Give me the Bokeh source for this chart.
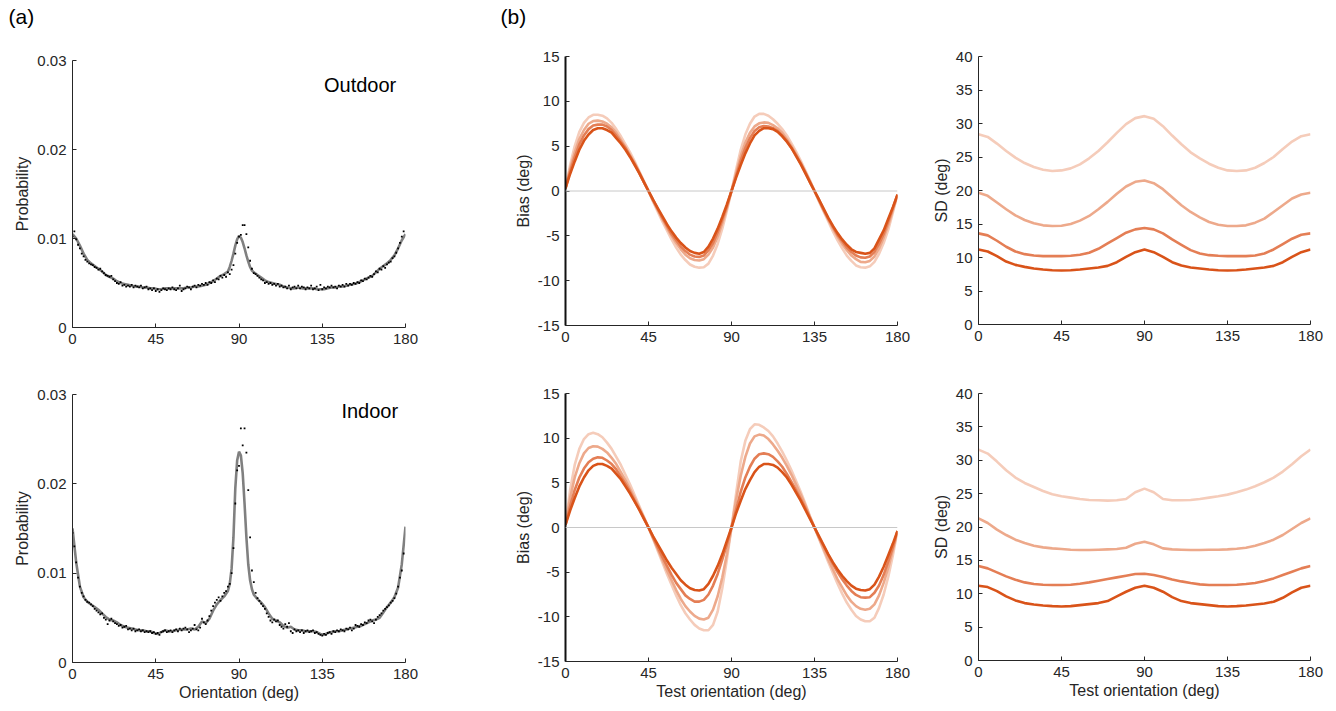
from bokeh.plotting import figure
from bokeh.models import Range1d, FixedTicker, Label, CustomJSTickFormatter, Span, Title
from bokeh.layouts import row, column
from bokeh.embed import file_html
from bokeh.resources import INLINE

FONT = "Liberation Sans"
AXC = "#262626"

# ---------------- data ----------------
orient_ticks = [0, 45, 90, 135, 180]
prob_ticks = [0, 0.01, 0.02, 0.03]
bias_ticks = [-15, -10, -5, 0, 5, 10, 15]
sd_ticks = [0, 5, 10, 15, 20, 25, 30, 35, 40]

dots_x = list(range(0, 180))
curve_x = list(range(0, 85, 2)) + list(range(85, 99)) + list(range(100, 181, 2))
bias_x = [i * 2.5 for i in range(73)]
sd_x = list(range(0, 181, 5))

outdoor_dots = [
    .0102, .0108, .0099, .0093, .0089, .0083, .0080, .0076, .0074, .0072,
    .0071, .0070, .0068, .0067, .0065, .0066, .0063, .0061, .0059, .0058,
    .0057, .0058, .0054, .0052, .0050, .0049, .0051, .0047, .0048, .0046,
    .0047, .0046, .0048, .0045, .0047, .0046, .0045, .0047, .0044, .0045,
    .0046, .0043, .0044, .0042, .0044, .0041, .0043, .0040, .0042, .0044,
    .0043, .0042, .0044, .0043, .0045, .0043, .0042, .0044, .0047, .0041,
    .0043, .0044, .0046, .0045, .0043, .0046, .0047, .0045, .0048, .0047,
    .0049, .0048, .0050, .0048, .0051, .0050, .0053, .0051, .0055, .0054,
    .0058, .0056, .0059, .0057, .0062, .0060, .0065, .0070, .0083, .0095,
    .0102, .0104, .0115, .0115, .0105, .0090, .0075, .0066, .0061, .0060,
    .0058, .0056, .0054, .0053, .0050, .0051, .0049, .0050, .0048, .0049,
    .0047, .0049, .0046, .0047, .0045, .0046, .0044, .0047, .0043, .0045,
    .0046, .0044, .0047, .0044, .0046, .0045, .0043, .0045, .0044, .0047,
    .0043, .0044, .0046, .0042, .0048, .0043, .0045, .0044, .0046, .0045,
    .0047, .0045, .0046, .0044, .0047, .0046, .0048, .0046, .0049, .0047,
    .0049, .0048, .0050, .0049, .0051, .0050, .0053, .0052, .0055, .0054,
    .0056, .0058, .0057, .0060, .0063, .0062, .0066, .0065, .0069, .0067,
    .0071, .0073, .0074, .0078, .0080, .0084, .0089, .0095, .0102, .0108,
]
outdoor_curve = [
    .0105, .0100, .0092, .0083, .0076, .0072, .0069, .0066, .0063, .0059,
    .0057, .0055, .0052, .0050, .0049, .0048, .0047, .0046, .0046, .0045,
    .0045, .0044, .0044, .0043, .0043, .0044, .0044, .0044, .0044, .0044,
    .0044, .0045, .0045, .0046, .0046, .0047, .0048, .0050, .0052, .0055,
    .0058, .0060, .0063,
    .0068, .0075, .0083, .0092, .0099, .0103, .0101, .0096, .0089, .0081,
    .0074, .0068, .0064, .0062,
    .0059, .0056, .0053, .0051, .0050, .0049, .0048, .0046, .0045, .0044,
    .0044, .0045, .0044, .0044, .0044, .0044, .0043, .0043, .0043, .0044,
    .0045, .0045, .0046, .0046, .0047, .0048, .0049, .0050, .0052, .0054,
    .0056, .0058, .0062, .0066, .0069, .0072, .0076, .0081, .0089, .0098,
    .0105,
]
indoor_dots = [
    .0145, .0130, .0112, .0095, .0085, .0078, .0074, .0070, .0068, .0067,
    .0065, .0063, .0060, .0058, .0056, .0054, .0055, .0050, .0048, .0043,
    .0047, .0049, .0046, .0044, .0043, .0041, .0042, .0039, .0040, .0041,
    .0037, .0038, .0036, .0038, .0035, .0036, .0037, .0035, .0036, .0034,
    .0035, .0034, .0035, .0033, .0034, .0032, .0033, .0031, .0034, .0035,
    .0036, .0034, .0035, .0036, .0034, .0036, .0037, .0035, .0038, .0036,
    .0038, .0039, .0037, .0034, .0036, .0038, .0042, .0037, .0036, .0039,
    .0049, .0045, .0043, .0047, .0052, .0058, .0063, .0067, .0070, .0073,
    .0069, .0074, .0078, .0080, .0085, .0088, .0100, .0128, .0178, .0215,
    .0220, .0262, .0243, .0262, .0235, .0193, .0140, .0103, .0090, .0078,
    .0072, .0069, .0066, .0063, .0060, .0055, .0051, .0047, .0045, .0048,
    .0046, .0047, .0042, .0040, .0038, .0043, .0040, .0044, .0035, .0033,
    .0037, .0035, .0036, .0034, .0036, .0033, .0035, .0036, .0034, .0035,
    .0036, .0033, .0034, .0032, .0031, .0030, .0032, .0031, .0033, .0034,
    .0032, .0035, .0034, .0036, .0035, .0037, .0036, .0035, .0038, .0037,
    .0039, .0036, .0038, .0042, .0041, .0040, .0043, .0042, .0045, .0044,
    .0047, .0048, .0046, .0044, .0048, .0051, .0053, .0055, .0058, .0060,
    .0062, .0064, .0067, .0069, .0072, .0077, .0085, .0095, .0103, .0122,
]
indoor_curve = [
    .0150, .0112, .0085, .0073, .0068, .0065, .0062, .0059, .0055, .0051,
    .0048, .0047, .0045, .0042, .0040, .0039, .0038, .0037, .0036, .0036,
    .0035, .0035, .0033, .0032, .0034, .0036, .0035, .0035, .0036, .0037,
    .0037, .0037, .0038, .0037, .0040, .0046, .0044, .0049, .0058, .0065,
    .0070, .0074, .0080,
    .0088, .0105, .0140, .0195, .0226, .0236, .0232, .0212, .0178, .0140,
    .0110, .0092, .0082, .0076,
    .0071, .0067, .0062, .0055, .0049, .0047, .0045, .0041, .0039, .0040,
    .0037, .0036, .0036, .0035, .0035, .0035, .0034, .0032, .0031, .0033,
    .0034, .0035, .0035, .0036, .0037, .0038, .0039, .0040, .0041, .0043,
    .0045, .0047, .0048, .0050, .0056, .0062, .0067, .0073, .0084, .0110,
    .0152,
]

# bias (deg), darkest (1) to lightest (4), every 2.5 deg
bias_out_1 = [0.3, 1.9, 3.3, 4.6, 5.6, 6.3, 6.8, 7.0, 7.0, 6.8,
              6.5, 5.9, 5.3, 4.6, 3.8, 2.9, 2.0, 1.0, 0.0, -1.0,
              -1.9, -2.8, -3.7, -4.5, -5.2, -5.8, -6.3, -6.7, -6.9, -7.0,
              -6.8, -6.2, -5.3, -4.2, -2.9, -1.5, 0.0, 1.5, 2.9, 4.2,
              5.3, 6.2, 6.7, 7.0, 7.0, 6.9, 6.6, 6.1, 5.5, 4.8,
              3.9, 3.0, 2.0, 1.0, 0.0, -1.0, -2.0, -3.0, -3.9, -4.7,
              -5.4, -6.0, -6.5, -6.8, -6.9, -7.0, -6.9, -6.4, -5.4, -4.4,
              -3.1, -1.8, -0.4]
bias_out_2 = [0.3, 2.2, 3.8, 5.2, 6.2, 6.9, 7.3, 7.4, 7.4, 7.2,
              6.8, 6.2, 5.5, 4.8, 3.9, 3.0, 2.0, 1.0, 0.0, -1.0,
              -2.0, -3.0, -3.9, -4.8, -5.5, -6.2, -6.7, -7.1, -7.3, -7.35,
              -7.2, -6.6, -5.8, -4.6, -3.2, -1.7, 0.0, 1.7, 3.4, 4.8,
              5.9, 6.7, 7.1, 7.25, 7.2, 7.0, 6.7, 6.2, 5.6, 4.8,
              4.0, 3.1, 2.1, 1.0, 0.0, -1.0, -2.1, -3.1, -4.0, -4.9,
              -5.6, -6.3, -6.8, -7.2, -7.4, -7.45, -7.3, -6.8, -5.9, -4.8,
              -3.4, -1.9, -0.4]
bias_out_3 = [0.3, 2.5, 4.3, 5.8, 6.8, 7.5, 7.8, 7.85, 7.75, 7.5,
              7.1, 6.5, 5.7, 4.9, 4.0, 3.1, 2.1, 1.0, 0.0, -1.1,
              -2.1, -3.1, -4.1, -5.0, -5.8, -6.5, -7.1, -7.5, -7.7, -7.75,
              -7.6, -7.1, -6.3, -5.1, -3.6, -1.9, 0.0, 2.0, 3.9, 5.4,
              6.5, 7.2, 7.55, 7.65, 7.6, 7.35, 7.0, 6.5, 5.8, 5.0,
              4.1, 3.1, 2.1, 1.1, 0.0, -1.1, -2.2, -3.2, -4.2, -5.1,
              -5.9, -6.6, -7.2, -7.6, -7.9, -7.95, -7.8, -7.3, -6.4, -5.2,
              -3.8, -2.1, -0.4]
bias_out_4 = [0.3, 2.9, 5.0, 6.6, 7.6, 8.2, 8.5, 8.5, 8.4, 8.1,
              7.6, 6.9, 6.1, 5.2, 4.3, 3.3, 2.2, 1.1, 0.0, -1.2,
              -2.3, -3.4, -4.4, -5.4, -6.3, -7.1, -7.7, -8.2, -8.45, -8.55,
              -8.5, -8.1, -7.2, -5.9, -4.2, -2.2, 0.0, 2.4, 4.6, 6.3,
              7.5, 8.3, 8.6, 8.6, 8.4, 8.0, 7.5, 6.9, 6.2, 5.3,
              4.4, 3.4, 2.3, 1.2, 0.0, -1.2, -2.3, -3.4, -4.5, -5.5,
              -6.4, -7.2, -7.8, -8.3, -8.5, -8.55, -8.4, -7.9, -7.0, -5.8,
              -4.3, -2.4, -0.4]

bias_in_1 = [0.3, 1.9, 3.3, 4.6, 5.6, 6.4, 6.9, 7.1, 7.1, 6.9,
             6.6, 6.0, 5.4, 4.6, 3.8, 2.9, 2.0, 1.0, 0.0, -1.0,
             -1.9, -2.8, -3.7, -4.5, -5.2, -5.9, -6.4, -6.8, -7.0, -7.05,
             -6.9, -6.3, -5.4, -4.3, -3.0, -1.5, 0.0, 1.6, 3.0, 4.3,
             5.3, 6.2, 6.8, 7.1, 7.1, 7.0, 6.7, 6.2, 5.6, 4.8,
             3.9, 3.0, 2.0, 1.0, 0.0, -1.0, -2.0, -3.0, -3.9, -4.7,
             -5.4, -6.0, -6.5, -6.85, -7.0, -7.05, -6.9, -6.4, -5.5, -4.4,
             -3.1, -1.8, -0.4]
bias_in_2 = [0.3, 2.4, 4.2, 5.6, 6.6, 7.3, 7.7, 7.85, 7.8, 7.5,
             7.1, 6.5, 5.7, 4.9, 4.0, 3.0, 2.0, 1.0, 0.0, -1.1,
             -2.2, -3.3, -4.3, -5.3, -6.2, -6.9, -7.6, -8.0, -8.3, -8.3,
             -8.1, -7.5, -6.5, -5.2, -3.6, -1.9, 0.0, 2.0, 4.0, 5.6,
             6.8, 7.7, 8.2, 8.3, 8.2, 7.9, 7.4, 6.8, 6.0, 5.1,
             4.2, 3.2, 2.2, 1.1, 0.0, -1.1, -2.1, -3.1, -4.1, -5.0,
             -5.8, -6.5, -7.1, -7.55, -7.8, -7.85, -7.8, -7.3, -6.5, -5.3,
             -3.8, -2.2, -0.4]
bias_in_3 = [0.3, 3.3, 5.6, 7.2, 8.3, 8.9, 9.1, 9.05, 8.8, 8.4,
             7.8, 7.1, 6.2, 5.3, 4.3, 3.3, 2.2, 1.1, 0.0, -1.2,
             -2.4, -3.6, -4.8, -5.9, -7.0, -8.0, -8.8, -9.4, -9.9, -10.2,
             -10.3, -10.1, -9.2, -7.7, -5.6, -3.0, 0.0, 3.1, 5.8, 7.9,
             9.4, 10.2, 10.4, 10.3, 9.9, 9.3, 8.6, 7.8, 6.9, 5.9,
             4.8, 3.7, 2.5, 1.2, 0.0, -1.2, -2.4, -3.6, -4.7, -5.8,
             -6.7, -7.6, -8.3, -8.8, -9.1, -9.2, -9.1, -8.6, -7.6, -6.2,
             -4.5, -2.5, -0.4]
bias_in_4 = [0.3, 4.2, 7.0, 8.8, 9.9, 10.45, 10.6, 10.45, 10.1, 9.5,
             8.8, 7.9, 7.0, 5.9, 4.8, 3.6, 2.4, 1.2, 0.0, -1.3,
             -2.6, -3.9, -5.2, -6.4, -7.6, -8.7, -9.6, -10.3, -10.9, -11.3,
             -11.5, -11.5, -10.9, -9.4, -6.8, -3.6, 0.0, 3.8, 7.4, 9.7,
             11.0, 11.55, 11.5, 11.2, 10.8, 10.2, 9.4, 8.5, 7.5, 6.4,
             5.2, 4.0, 2.7, 1.3, 0.0, -1.3, -2.6, -3.9, -5.1, -6.3,
             -7.4, -8.4, -9.2, -9.9, -10.3, -10.5, -10.5, -10.1, -9.0, -7.5,
             -5.5, -3.1, -0.4]

# SD (deg), darkest (1) to lightest (4), every 5 deg
sd_out_1 = [11.2, 10.9, 10.2, 9.4, 8.9, 8.6, 8.35, 8.2, 8.1, 8.05, 8.1, 8.2, 8.35, 8.5, 8.75, 9.3, 10.1, 10.8, 11.2,
            10.8, 10.1, 9.3, 8.8, 8.5, 8.35, 8.2, 8.1, 8.05, 8.1, 8.2, 8.35, 8.5, 8.75, 9.3, 10.1, 10.8, 11.2]
sd_out_2 = [13.6, 13.3, 12.5, 11.6, 10.9, 10.5, 10.3, 10.2, 10.2, 10.2, 10.25, 10.4, 10.7, 11.3, 12.1, 12.9, 13.7, 14.2, 14.4,
            14.2, 13.6, 12.7, 11.9, 11.1, 10.6, 10.35, 10.25, 10.2, 10.2, 10.2, 10.3, 10.6, 11.2, 12.0, 12.8, 13.4, 13.6]
sd_out_3 = [19.65, 19.2, 18.2, 17.2, 16.3, 15.6, 15.1, 14.8, 14.7, 14.75, 15.0, 15.5, 16.2, 17.2, 18.3, 19.5, 20.6, 21.3, 21.5,
            21.1, 20.2, 19.0, 17.8, 16.8, 16.0, 15.3, 14.9, 14.7, 14.7, 14.8, 15.2, 15.8, 16.8, 17.8, 18.8, 19.4, 19.65]
sd_out_4 = [28.4, 28.0, 27.0, 25.9, 24.9, 24.1, 23.5, 23.1, 22.9, 23.0, 23.3, 23.9, 24.8, 25.9, 27.2, 28.6, 29.9, 30.8, 31.1,
            30.7, 29.6, 28.2, 26.9, 25.7, 24.8, 24.0, 23.4, 23.0, 22.9, 23.0, 23.4, 24.1, 25.0, 26.2, 27.3, 28.1, 28.4]

sd_in_1 = [11.2, 11.0, 10.4, 9.6, 9.0, 8.6, 8.4, 8.25, 8.15, 8.1, 8.15, 8.3, 8.45, 8.6, 8.9, 9.6, 10.3, 10.9, 11.2,
           10.9, 10.3, 9.5, 8.9, 8.6, 8.45, 8.3, 8.15, 8.1, 8.15, 8.25, 8.4, 8.55, 8.8, 9.4, 10.2, 10.9, 11.2]
sd_in_2 = [14.15, 13.8, 13.2, 12.6, 12.1, 11.7, 11.45, 11.35, 11.3, 11.3, 11.35, 11.5, 11.7, 11.95, 12.2, 12.45, 12.7, 12.95, 13.0,
           12.8, 12.5, 12.15, 11.85, 11.6, 11.4, 11.3, 11.3, 11.3, 11.35, 11.45, 11.6, 11.9, 12.3, 12.8, 13.3, 13.8, 14.15]
sd_in_3 = [21.3, 20.6, 19.6, 18.8, 18.1, 17.6, 17.2, 16.95, 16.8, 16.7, 16.6, 16.55, 16.55, 16.6, 16.65, 16.7, 16.9, 17.5, 17.8,
           17.4, 16.8, 16.65, 16.6, 16.55, 16.55, 16.6, 16.6, 16.65, 16.75, 16.9, 17.2, 17.6, 18.1, 18.8, 19.7, 20.6, 21.3]
sd_in_4 = [31.6, 31.0, 29.8, 28.5, 27.4, 26.6, 26.0, 25.4, 24.9, 24.6, 24.4, 24.2, 24.05, 24.0, 23.95, 24.0, 24.2, 25.2, 25.75,
           25.2, 24.2, 24.0, 24.0, 24.05, 24.2, 24.4, 24.6, 24.85, 25.2, 25.6, 26.1, 26.7, 27.4, 28.3, 29.4, 30.6, 31.6]

for s in (bias_out_1, bias_out_2, bias_out_3, bias_out_4, bias_in_1, bias_in_2, bias_in_3, bias_in_4):
    assert len(s) == len(bias_x), len(s)

# colours: darkest -> lightest
oranges = ["#D95319", "#E47E55", "#EDA98B", "#F5CCBA"]
gray_curve = "#808080"


def make_fig(w, h, bl, br, bt, bb, yr, yticks, yfmt, ylabel, xlabel=None, thick_left=False):
    p = figure(width=w, height=h, x_range=Range1d(0, 180), y_range=Range1d(*yr),
               output_backend="svg", toolbar_location=None,
               min_border_left=bl, min_border_right=br, min_border_top=bt, min_border_bottom=bb)
    p.outline_line_color = None
    p.xgrid.visible = False
    p.ygrid.visible = False
    p.background_fill_color = "white"
    p.border_fill_color = "white"
    for ax in (p.xaxis[0], p.yaxis[0]):
        ax.axis_line_color = AXC
        ax.axis_line_width = 1
        ax.major_tick_line_color = AXC
        ax.major_tick_in = 4
        ax.major_tick_out = 0
        ax.minor_tick_line_color = None
        ax.major_label_text_font = FONT
        ax.major_label_text_font_size = "15px"
        ax.major_label_text_color = AXC
        ax.major_label_standoff = 6
        ax.axis_label_text_font = FONT
        ax.axis_label_text_font_size = "16px"
        ax.axis_label_text_font_style = "normal"
        ax.axis_label_text_color = AXC
    p.xaxis[0].ticker = FixedTicker(ticks=orient_ticks)
    p.xaxis[0].formatter = CustomJSTickFormatter(code="return tick.toFixed(0);")
    p.yaxis[0].ticker = FixedTicker(ticks=yticks)
    p.yaxis[0].formatter = CustomJSTickFormatter(code=yfmt)
    p.yaxis[0].axis_label = ylabel
    p.yaxis[0].axis_label_standoff = 3
    if xlabel:
        p.xaxis[0].axis_label = xlabel
        p.xaxis[0].axis_label_standoff = 2
    if thick_left:
        p.yaxis[0].axis_line_width = 2
        p.yaxis[0].axis_line_color = "#111111"
    return p


prob_fmt = "return tick == 0 ? '0' : tick.toFixed(2);"
int_fmt = "return tick.toFixed(0);"


def prob_panel(p, dots, curve, name, lx, ly):
    p.line(curve_x, curve, line_color=gray_curve, line_width=2.6)
    p.scatter(dots_x, dots, marker="square", size=1.8, fill_color="black", line_color=None)
    p.add_layout(Label(x=lx, y=ly, text=name, text_align="right", text_baseline="middle",
                       text_font=FONT, text_font_size="20px", text_color="black"))


def multi_panel(p, xs, series):
    for vals, col in reversed(list(zip(series, oranges))):
        p.line(xs, vals, line_color=col, line_width=2.6)


def panel_letter(p, text, offset, gap):
    # an empty spacer title next to the frame pushes the letter further up
    p.add_layout(Title(text=" ", text_font=FONT, text_font_size="21px", standoff=gap), "above")
    p.title.text = text
    p.title.align = "left"
    p.title.vertical_align = "top"
    p.title.offset = offset
    p.title.standoff = 0
    p.title.text_font = FONT
    p.title.text_font_size = "21px"
    p.title.text_font_style = "normal"
    p.title.text_color = "black"


# ---- column A ----
a_top = make_fig(480, 360, 72, 75, 60, 33, (0, 0.03), prob_ticks, prob_fmt, "Probability")
prob_panel(a_top, outdoor_dots, outdoor_curve, "Outdoor", 175, 0.0272)
panel_letter(a_top, "(a)", -64, 6)

a_bot = make_fig(480, 351, 72, 75, 34, 49, (0, 0.03), prob_ticks, prob_fmt, "Probability", "Orientation (deg)")
prob_panel(a_bot, indoor_dots, indoor_curve, "Indoor", 176, 0.0282)

# ---- column B ----
b_top = make_fig(442, 360, 85, 25, 56, 35, (-15, 15), bias_ticks, int_fmt, "Bias (deg)", thick_left=True)
b_top.add_layout(Span(location=0, dimension="width", line_color="#c8c8c8", line_width=1))
multi_panel(b_top, bias_x, [bias_out_1, bias_out_2, bias_out_3, bias_out_4])
panel_letter(b_top, "(b)", -65, 2)

b_bot = make_fig(442, 351, 85, 25, 33, 50, (-15, 15), bias_ticks, int_fmt, "Bias (deg)", "Test orientation (deg)",
                 thick_left=True)
b_bot.add_layout(Span(location=0, dimension="width", line_color="#c8c8c8", line_width=1))
multi_panel(b_bot, bias_x, [bias_in_1, bias_in_2, bias_in_3, bias_in_4])

# ---- column C ----
c_top = make_fig(414, 360, 56, 26, 56, 36, (0, 40), sd_ticks, int_fmt, "SD (deg)")
multi_panel(c_top, sd_x, [sd_out_1, sd_out_2, sd_out_3, sd_out_4])

c_bot = make_fig(414, 351, 56, 26, 33, 51, (0, 40), sd_ticks, int_fmt, "SD (deg)", "Test orientation (deg)")
multi_panel(c_bot, sd_x, [sd_in_1, sd_in_2, sd_in_3, sd_in_4])

layout = row(column(a_top, a_bot), column(b_top, b_bot), column(c_top, c_bot))

open("out.html", "w").write(file_html(layout, INLINE))
